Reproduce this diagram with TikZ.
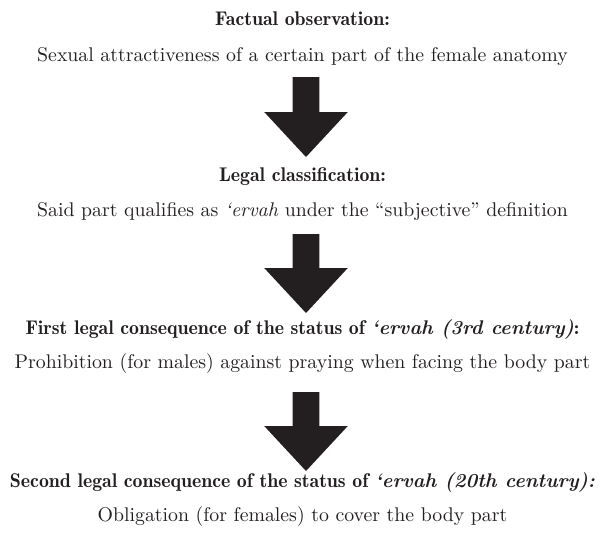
\documentclass[tikz,border=0pt]{standalone}
\usepackage{fontspec}
\setmainfont{lmroman10}[Extension=.otf, UprightFont=*-regular, ItalicFont=*-italic,
  BoldFont=lmromandemi10-regular, BoldItalicFont=lmroman10-bolditalic]
\usetikzlibrary{calc}
\definecolor{ink}{HTML}{231F20}
\tikzset{
  bodytext/.style={anchor=base, inner sep=0pt, text=ink, font=\fontsize{19.8}{24}\selectfont},
  headtext/.style={anchor=base, inner sep=0pt, text=ink, font=\fontsize{19.8}{24}\selectfont\bfseries},
  fatarrow/.style={fill=ink}
}
\newcommand\fatdown[2]{%
  \fill[fatarrow] let \p1=(#1), \p2=(#2) in
    (\x1-13.3pt,\y1) -- (\x1+13.3pt,\y1) -- (\x1+13.3pt,\y2+45pt) -- (\x1+41.8pt,\y2+45pt)
    -- (\x2,\y2) -- (\x1-41.8pt,\y2+45pt) -- (\x1-13.3pt,\y2+45pt) -- cycle;}
\begin{document}
\begin{tikzpicture}[x=1pt,y=1pt]
  \useasboundingbox (0,0) rectangle (605,-544);
  \node[headtext] (h1) at (302.5,-25) {Factual observation:};
  \node[bodytext] (b1) at (302.5,-61.5) {Sexual attractiveness of a certain part of the female anatomy};
  \node[headtext] (h2) at (302.5,-181) {Legal classification:};
  \node[bodytext] (b2) at (302.5,-216) {Said part qualifies as \textit{‘ervah} under the “subjective” definition};
  \node[headtext] (h3) at (302.5,-334) {First legal consequence of the status of \textit{‘ervah (3rd century)}:};
  \node[bodytext] (b3) at (302.5,-368) {Prohibition (for males) against praying when facing the body part};
  \node[headtext] (h4) at (302.5,-487) {Second legal consequence of the status of \textit{‘ervah (20th century):}};
  \node[bodytext] (b4) at (302.5,-521) {Obligation (for females) to cover the body part};
  \coordinate (s1) at (306,-77);  \coordinate (e1) at (306,-157);
  \coordinate (s2) at (306,-234); \coordinate (e2) at (306,-313);
  \coordinate (s3) at (306,-392); \coordinate (e3) at (306,-471);
  \fatdown{s1}{e1}
  \fatdown{s2}{e2}
  \fatdown{s3}{e3}
\end{tikzpicture}
\end{document}
